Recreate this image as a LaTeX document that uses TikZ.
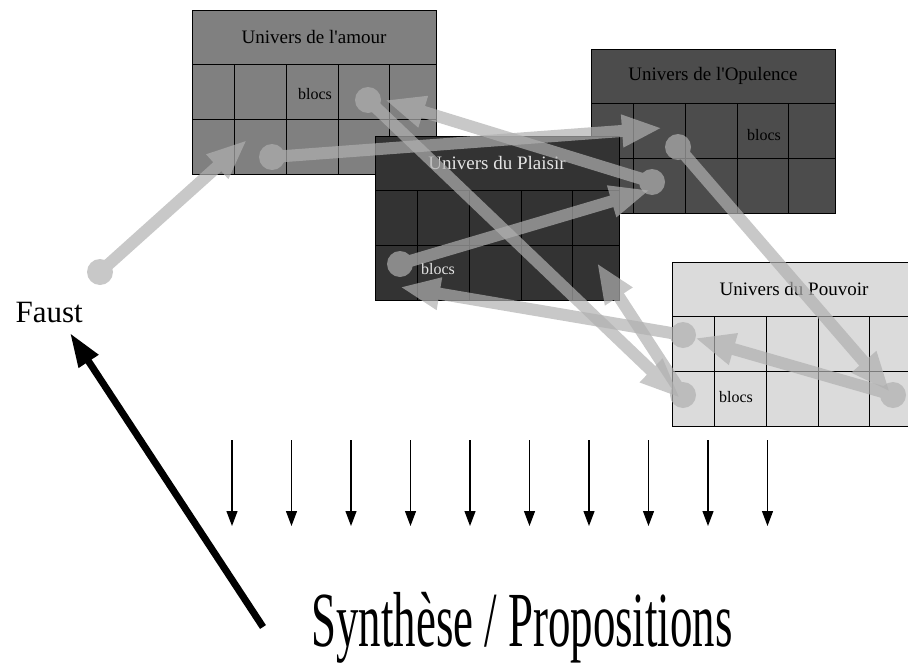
\documentclass[tikz,border=0pt]{standalone}
\usepackage{fontspec}
\usepackage{graphicx}
\setmainfont{Liberation Serif}
\usetikzlibrary{arrows.meta}

\definecolor{amourgray}{gray}{0.50}
\definecolor{opulgray}{gray}{0.30}
\definecolor{plaisirgray}{gray}{0.20}
\definecolor{pouvgray}{gray}{0.86}
\definecolor{liengray}{gray}{0.69}

\tikzset{
  titre/.style={font=\fontsize{19}{22}\selectfont},
  blocs/.style={font=\fontsize{16}{19}\selectfont},
  lien/.style={line width=12pt, liengray, -{Triangle[length=40pt,width=30pt]}},
  fleche/.style={line width=1.2pt, -{Triangle[length=15pt,width=11pt]}},
}

% one universe: name, x, y, fill, text colour, title
\newcommand{\univers}[6]{
  \fill[#4] (#2,#3) rectangle ++(244,164);
  \foreach \cx in {42.5,94,146,197}
    \draw (#2+\cx,#3+54) -- ++(0,110);
  \draw (#2,#3+54) -- ++(244,0);
  \draw (#2,#3+109) -- ++(244,0);
  \draw (#2,#3) rectangle ++(244,164);
  \node[titre,text=#5] (#1) at (#2+122,#3+27) {#6};
}

% one link: dot at the start, arrow to the end
\newcommand{\relie}[2]{
  \begin{scope}[transparency group, opacity=0.7]
    \fill[liengray] (#1) circle (13);
    \draw[lien] (#1) -- (#2);
  \end{scope}
}

\begin{document}
\begin{tikzpicture}[x=1pt,y=-1pt]
  \useasboundingbox (0,0) rectangle (908,664);

  % the four universes
  \univers{amour}{192}{10}{amourgray}{black}{Univers de l\textquotesingle amour}
  \univers{opulence}{591}{49}{opulgray}{black}{Univers de l\textquotesingle Opulence}
  \univers{plaisir}{375}{136}{plaisirgray}{white!90!black}{Univers du Plaisir}
  \univers{pouvoir}{672}{262}{pouvgray}{black}{Univers du Pouvoir}

  \node[blocs] (amour-blocs) at (315,94) {blocs};
  \node[blocs] (opulence-blocs) at (764,135) {blocs};
  \node[blocs,text=white!90!black] (plaisir-blocs) at (438,269) {blocs};
  \node[blocs] (pouvoir-blocs) at (736,397) {blocs};

  % ends of the links
  \coordinate (faust-dot) at (100,272);
  \coordinate (amour-dot1) at (272,157);
  \coordinate (amour-dot2) at (368,100);
  \coordinate (amour-in1) at (247,140);
  \coordinate (amour-in2) at (385,100);
  \coordinate (opul-dot1) at (678,147);
  \coordinate (opul-dot2) at (652,182);
  \coordinate (opul-in1) at (662,128);
  \coordinate (opul-in2) at (650,190);
  \coordinate (plaisir-dot) at (400,264);
  \coordinate (plaisir-in1) at (597,263);
  \coordinate (plaisir-in2) at (400,287);
  \coordinate (pouv-dot1) at (683,395);
  \coordinate (pouv-dot2) at (683,335);
  \coordinate (pouv-dot3) at (893,395);
  \coordinate (pouv-in1) at (680,398);
  \coordinate (pouv-in2) at (890,392);
  \coordinate (pouv-in3) at (695,338);

  \relie{faust-dot}{amour-in1}
  \relie{amour-dot1}{opul-in1}
  \relie{amour-dot2}{pouv-in1}
  \relie{pouv-dot1}{plaisir-in1}
  \relie{pouv-dot2}{plaisir-in2}
  \relie{opul-dot1}{pouv-in2}
  \relie{pouv-dot3}{pouv-in3}
  \relie{plaisir-dot}{opul-in2}
  \relie{opul-dot2}{amour-in2}

  % Faust and the synthesis
  \node[font=\fontsize{31}{34}\selectfont, anchor=base west] (faust) at (12,322) {Faust};
  \node[font=\fontsize{78}{80}\selectfont, anchor=base, inner sep=0pt] (synthese) at (522,646)
    {\scalebox{0.575}[1]{Synthèse / Propositions}};
  \coordinate (synth-tail) at (263,627);
  \coordinate (faust-tip) at (70,333);
  \draw[line width=7pt, -{Triangle[length=34pt,width=22pt]}] (synth-tail) -- (faust-tip);

  \foreach \i in {0,...,9}
    \draw[fleche] (232+59.5*\i,440) -- ++(0,86);
\end{tikzpicture}
\end{document}
